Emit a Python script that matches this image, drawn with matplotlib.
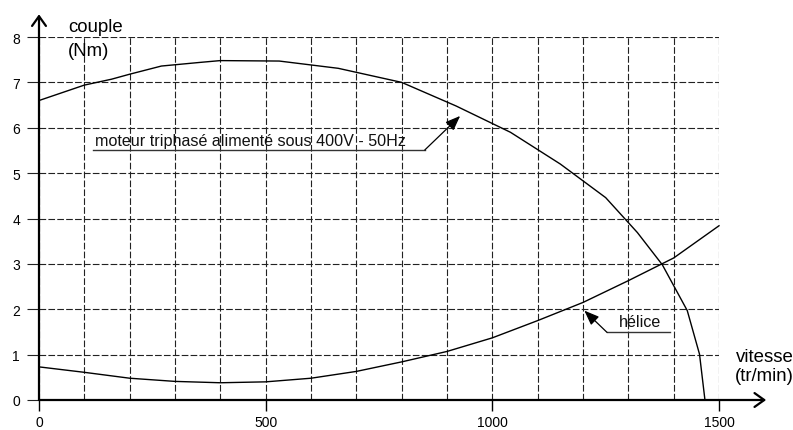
import matplotlib
matplotlib.use('Agg')
import matplotlib.pyplot as plt

# motor torque curve (tr/min, Nm)
motor_speed = [0, 100, 160, 200, 270, 355, 400, 530, 660, 800, 920, 1040,
               1150, 1250, 1320, 1375, 1430, 1457, 1469]
motor_torque = [6.6, 6.94, 7.07, 7.18, 7.36, 7.44, 7.48, 7.47, 7.31, 7.0, 6.48, 5.9,
                5.2, 4.46, 3.69, 2.98, 1.97, 1.01, 0]

# propeller (helice) load curve
helice_speed = [0, 100, 200, 300, 400, 500, 600, 700, 800, 900, 1000, 1100,
                1200, 1300, 1400, 1500]
helice_torque = [0.73, 0.61, 0.48, 0.41, 0.38, 0.40, 0.48, 0.63, 0.84, 1.07, 1.37, 1.75,
                 2.15, 2.63, 3.13, 3.84]

x_ticks = [0, 500, 1000, 1500]
y_ticks = [0, 1, 2, 3, 4, 5, 6, 7, 8]

plt.rcParams['font.family'] = ['Liberation Sans', 'DejaVu Sans']

W, H = 793, 431
fig = plt.figure(figsize=(W / 100, H / 100), dpi=100)
# data box: x 0..1500 -> px 39..719, y 0..8 -> px 401..38
ax = fig.add_axes([39 / W, (H - 401) / H, 680 / W, 363 / H])
ax.set_xlim(0, 1500)
ax.set_ylim(0, 8)

for s in ax.spines.values():
    s.set_visible(False)

ax.set_xticks(x_ticks)
ax.set_xticks(range(0, 1501, 100), minor=True)
ax.set_yticks(y_ticks)
ax.tick_params(axis='x', which='major', direction='out', length=8, width=1.0,
               color='black', labelsize=10, pad=3)
ax.tick_params(axis='x', which='minor', length=0)
ax.tick_params(axis='y', direction='out', length=8.6, width=0.8,
               color='#222222', labelsize=10, pad=5)

grid_style = dict(color='#222222', linewidth=0.8, linestyle=(0, (6, 2)))
ax.grid(True, which='both', axis='x', **grid_style)
ax.grid(True, which='major', axis='y', **grid_style)
ax.set_axisbelow(True)

# axes with open arrow heads
axis_arrow = dict(arrowstyle='->,head_length=0.7,head_width=0.5', color='black',
                  lw=1.6, shrinkA=0, shrinkB=0, mutation_scale=10)
ax.annotate('', xy=(1604, 0), xytext=(0, 0), arrowprops=axis_arrow,
            annotation_clip=False)
ax.annotate('', xy=(0, 8.5), xytext=(0, 0), arrowprops=axis_arrow,
            annotation_clip=False)

ax.plot(motor_speed, motor_torque, color='black', lw=1.0, clip_on=False)
ax.plot(helice_speed, helice_torque, color='black', lw=1.0, clip_on=False)

# callouts
call_arrow = dict(arrowstyle='-|>,head_length=0.9,head_width=0.35', color='black',
                  lw=0.9, shrinkA=0, shrinkB=0, mutation_scale=10)
ax.plot([120, 851], [5.51, 5.51], color='#333333', lw=1.0)
ax.annotate('', xy=(929, 6.26), xytext=(851, 5.51), arrowprops=call_arrow)
ax.text(123, 5.62, 'moteur triphasé alimenté sous 400V - 50Hz', fontsize=11.6,
        va='baseline', ha='left', color='#111111')

ax.plot([1253, 1392], [1.49, 1.49], color='#333333', lw=1.0)
ax.annotate('', xy=(1203, 1.97), xytext=(1253, 1.49), arrowprops=call_arrow)
ax.text(1279, 1.64, 'hélice', fontsize=11.6, va='baseline', ha='left', color='#111111')

# axis titles
ax.text(64, 8.14, 'couple', fontsize=13.4, va='baseline', ha='left', clip_on=False)
ax.text(64, 7.6, '(Nm)', fontsize=13.4, va='baseline', ha='left', clip_on=False)
ax.text(1537, 0.87, 'vitesse', fontsize=13.4, va='baseline', ha='left', clip_on=False)
ax.text(1535, 0.45, '(tr/min)', fontsize=13.4, va='baseline', ha='left', clip_on=False)

fig.savefig('out.png', dpi=100)
